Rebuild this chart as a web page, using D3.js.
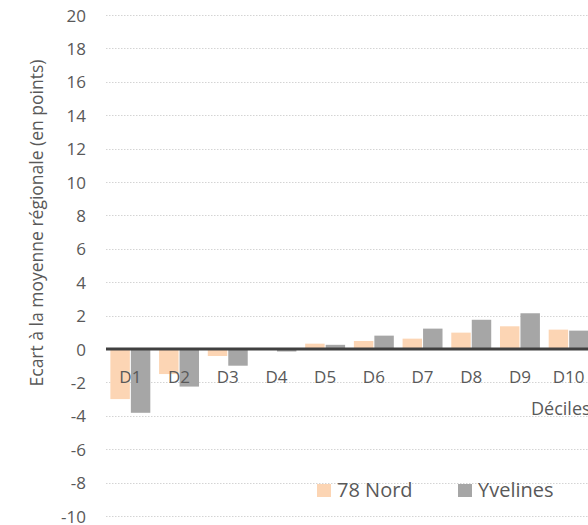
<!DOCTYPE html>
<html><head><meta charset="utf-8">
<script src="https://cdn.jsdelivr.net/npm/d3@7"></script>
<style>body{margin:0;background:#fff;} svg{display:block;} text{font-family:"Open Sans",sans-serif;fill:#595959;}</style>
</head><body>
<svg id="c" width="588" height="525"></svg>
<script>
const categories = ["D1","D2","D3","D4","D5","D6","D7","D8","D9","D10"];
const seriesNames = ["78 Nord","Yvelines"];
const nord78 = [-3.0,-1.5,-0.42,0.0,0.32,0.48,0.62,0.98,1.36,1.16];
const yvelines = [-3.82,-2.25,-1.0,-0.15,0.25,0.8,1.22,1.75,2.14,1.1];
const yTicks = [20,18,16,14,12,10,8,6,4,2,0,-2,-4,-6,-8,-10];
const colors = ["#fcd5b4","#a6a6a6"];
const yTitle = "Ecart à la moyenne régionale (en points)";
const xTitle = "Déciles";

const svg = d3.select("#c");
const y = d3.scaleLinear().domain([-10,20]).range([516,15]);
const x0 = d3.scaleBand().domain(categories).range([106,593]).paddingInner(0.18).paddingOuter(0.09);
const x1 = d3.scaleBand().domain(seriesNames).range([0,x0.bandwidth()]).paddingInner(0.05);
const data = [nord78, yvelines];

// gridlines
svg.append("g").selectAll("line").data(yTicks.filter(d=>d!==0)).join("line")
  .attr("x1",106).attr("x2",600).attr("y1",d=>Math.round(y(d))+0.5).attr("y2",d=>Math.round(y(d))+0.5)
  .attr("stroke","#d4d4d4").attr("stroke-width",1).attr("stroke-dasharray","1.5,1.5");

// y axis tick labels
const yAxis = d3.axisLeft(y).tickValues(yTicks).tickSize(0).tickPadding(0).tickFormat(d=>String(d));
const gy = svg.append("g").attr("transform","translate(86,0)").call(yAxis);
gy.select(".domain").remove();
gy.selectAll("text").style("font-family","'Open Sans',sans-serif").style("font-size","17px").attr("fill","#595959").attr("dy","0.36em");

// bars
seriesNames.forEach((s,i)=>{
  svg.append("g").selectAll("rect").data(categories).join("rect")
    .attr("x",c=>x0(c)+x1(s))
    .attr("width",x1.bandwidth())
    .attr("y",(c,j)=>y(Math.max(0,data[i][j])))
    .attr("height",(c,j)=>Math.abs(y(data[i][j])-y(0)))
    .attr("fill",colors[i]);
});

// zero line
svg.append("line").attr("x1",106).attr("x2",600).attr("y1",y(0)).attr("y2",y(0))
  .attr("stroke","#404040").attr("stroke-width",3);

// category labels
const xAxis = d3.axisBottom(x0).tickSize(0).tickPadding(0);
const gx = svg.append("g").attr("transform","translate(0,383)").call(xAxis);
gx.select(".domain").remove();
gx.selectAll("text").style("font-family","'Open Sans',sans-serif").style("font-size","17px").attr("fill","#595959").attr("dy","0");

// axis titles
svg.append("text").attr("transform","translate(43,223) rotate(-90)").attr("text-anchor","middle")
  .style("font-size","17.5px").text(yTitle);
svg.append("text").attr("x",531).attr("y",415).style("font-size","18px").text(xTitle);

// legend
const legX = [317,458];
seriesNames.forEach((s,i)=>{
  svg.append("rect").attr("x",legX[i]).attr("y",484).attr("width",14).attr("height",13).attr("fill",colors[i]);
  svg.append("text").attr("x",legX[i]+20).attr("y",497).style("font-size","20px").text(s);
});
</script>
</body></html>
